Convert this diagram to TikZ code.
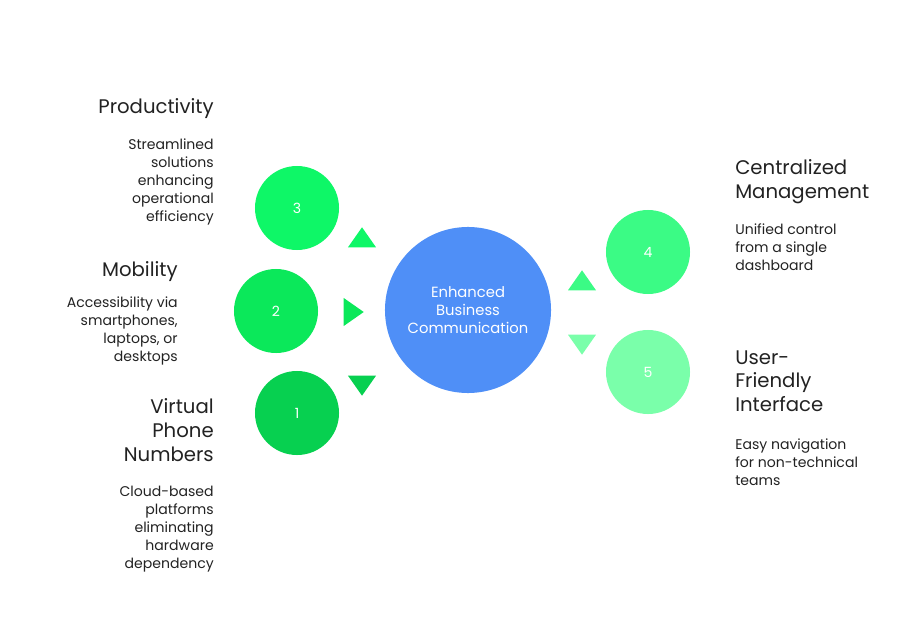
\documentclass[tikz,border=0pt]{standalone}
\usepackage{fontspec}
\setmainfont{Poppins}
\usetikzlibrary{positioning}
\usetikzlibrary{shapes.geometric}
\definecolor{hubBlue}{HTML}{4F8FF7}
\definecolor{grnA}{HTML}{07D050}
\definecolor{grnB}{HTML}{0BE85A}
\definecolor{grnC}{HTML}{0EF767}
\definecolor{grnD}{HTML}{3BFB85}
\definecolor{grnE}{HTML}{7AFFAA}
\definecolor{txtGray}{HTML}{222222}
\tikzset{numStyle/.style={circle, minimum size=2.1cm, inner sep=0pt, text=white, font=\fontsize{10}{12}\selectfont}}
\tikzset{triStyle/.style={isosceles triangle, isosceles triangle apex angle=70, minimum height=0.5cm, minimum width=0.5cm, inner sep=0pt}}
\tikzset{headStyle/.style={font=\fontsize{14}{17}\selectfont, text=txtGray, inner sep=0pt}, bodyStyle/.style={font=\fontsize{10}{12.8}\selectfont, text=txtGray, inner sep=0pt}}
\begin{document}
\begin{tikzpicture}[x=0.025cm, y=-0.025cm]
  \useasboundingbox (0,0) rectangle (912,636);
  % nodes
  \node at (468, 310) [circle, minimum size=4.15cm, inner sep=0pt, fill=hubBlue, text=white, align=center, font=\fontsize{10.5}{12.8}\selectfont] (hub){Enhanced\\Business\\Communication};
  \node at (297, 208) [numStyle, fill=grnC] (n3){3};
  \node at (276, 311) [numStyle, fill=grnB] (n2){2};
  \node at (297, 413) [numStyle, fill=grnA] (n1){1};
  \node at (648, 252) [numStyle, fill=grnD] (n4){4};
  \node at (648, 372) [numStyle, fill=grnE] (n5){5};

  % triangles
  \node at (362, 240) [triStyle, fill=grnC, shape border rotate=90] (t3){};
  \node at (351, 312) [triStyle, fill=grnB] (t2){};
  \node at (362, 383) [triStyle, fill=grnA, shape border rotate=-90] (t1){};
  \node at (582, 283) [triStyle, fill=grnD, shape border rotate=90] (t4){};
  \node at (582, 342) [triStyle, fill=grnE, shape border rotate=-90] (t5){};

  % texts left
  \node at (214, 98) [headStyle, anchor=north east, align=right] (h3){Productivity};
  \node at (214, 139) [bodyStyle, anchor=north east, align=right] (b3){Streamlined\\solutions\\enhancing\\operational\\efficiency};
  \node at (178, 261) [headStyle, anchor=north east, align=right] (h2){Mobility};
  \node at (178, 297) [bodyStyle, anchor=north east, align=right] (b2){Accessibility via\\smartphones,\\laptops, or\\desktops};
  \node at (214, 398) [headStyle, anchor=north east, align=right] (h1){Virtual\\Phone\\Numbers};
  \node at (214, 486) [bodyStyle, anchor=north east, align=right] (b1){Cloud-based\\platforms\\eliminating\\hardware\\dependency};

  % texts right
  \node at (735, 159) [headStyle, anchor=north west, align=left] (h4){Centralized\\Management};
  \node at (735, 223) [bodyStyle, anchor=north west, align=left] (b4){Unified control\\from a single\\dashboard};
  \node at (735, 350) [headStyle, anchor=north west, align=left] (h5){User-\\Friendly\\Interface};
  \node at (735, 439) [bodyStyle, anchor=north west, align=left] (b5){Easy navigation\\for non-technical\\teams};
\end{tikzpicture}
\end{document}
